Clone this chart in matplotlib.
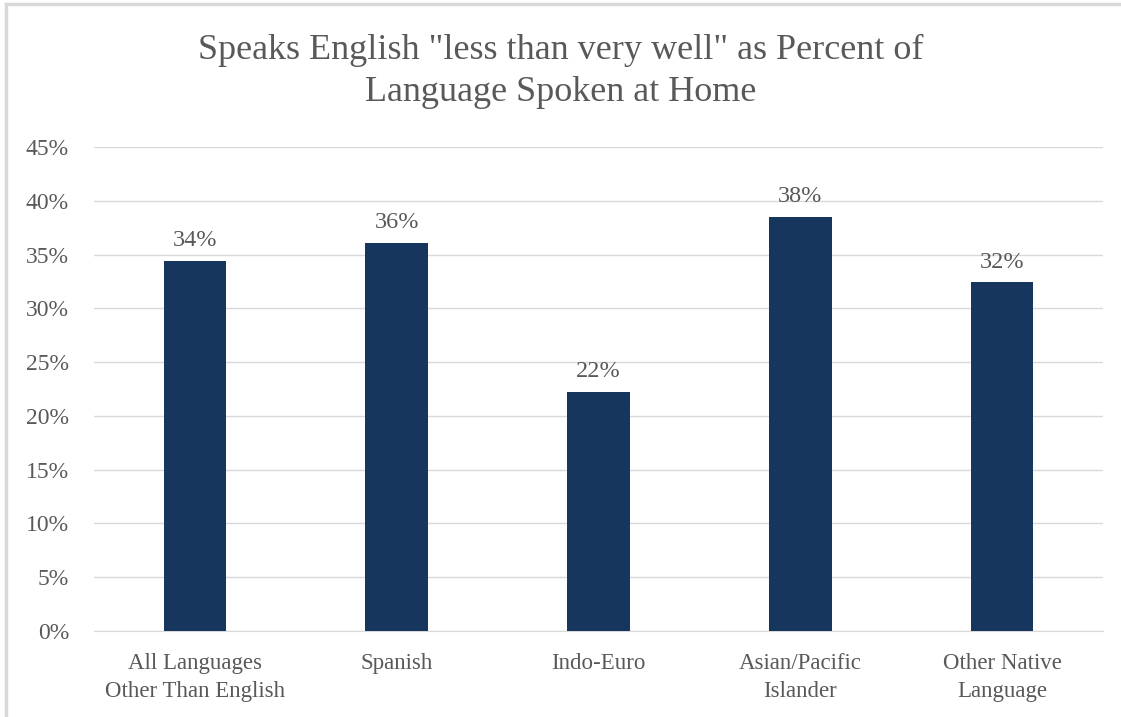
import matplotlib
matplotlib.use("Agg")
import matplotlib.pyplot as plt
from matplotlib.lines import Line2D
from matplotlib.ticker import MultipleLocator, PercentFormatter

# --- données ---
categories = ["All Languages\nOther Than English", "Spanish", "Indo-Euro",
              "Asian/Pacific\nIslander", "Other Native\nLanguage"]
values = [34.4, 36.1, 22.2, 38.5, 32.4]
labels = ["34%", "36%", "22%", "38%", "32%"]

BAR = "#17365d"
TXT = "#595959"
GRID = "#d9d9d9"
plt.rcParams['font.family'] = ['Liberation Serif', 'DejaVu Serif']

fig = plt.figure(figsize=(11.21, 7.17), dpi=100)
ax = fig.add_axes([0.0839, 0.12, 0.9, 0.675])

x = range(len(categories))
bars = ax.bar(x, values, width=0.31, color=BAR, zorder=3)
for b, lab in zip(bars, labels):
    ax.annotate(lab, (b.get_x() + b.get_width() / 2, b.get_height()),
                xytext=(0, 7), textcoords="offset points",
                ha="center", va="bottom", fontsize=17.5, color=TXT)

ax.set_xlim(-0.5, len(categories) - 0.5)
ax.set_ylim(0, 45)
ax.yaxis.set_major_locator(MultipleLocator(5))
ax.yaxis.set_major_formatter(PercentFormatter(decimals=0))
ax.set_xticks(list(x))
ax.set_xticklabels(categories, fontsize=16.5, color=TXT, linespacing=1.4)
ax.tick_params(axis="y", labelsize=17, labelcolor=TXT, length=0, pad=18)
ax.tick_params(axis="x", length=0, pad=16)
ax.grid(axis="y", color=GRID, linewidth=1, zorder=0)
for s in ["top", "right", "left"]:
    ax.spines[s].set_visible(False)
ax.spines["bottom"].set_color(GRID)

fig.text(0.5, 0.9,
         'Speaks English "less than very well" as Percent of\nLanguage Spoken at Home',
         ha="center", va="center", fontsize=26, color=TXT, linespacing=1.38)

# cadre du graphique (bord gris clair)
fig.add_artist(Line2D([0.0055, 1], [0.994, 0.994], color="#d9d9d9", lw=2.5))
fig.add_artist(Line2D([0.0055, 0.0055], [0, 0.994], color="#d9d9d9", lw=2.5))

fig.savefig("out.png", dpi=100)
